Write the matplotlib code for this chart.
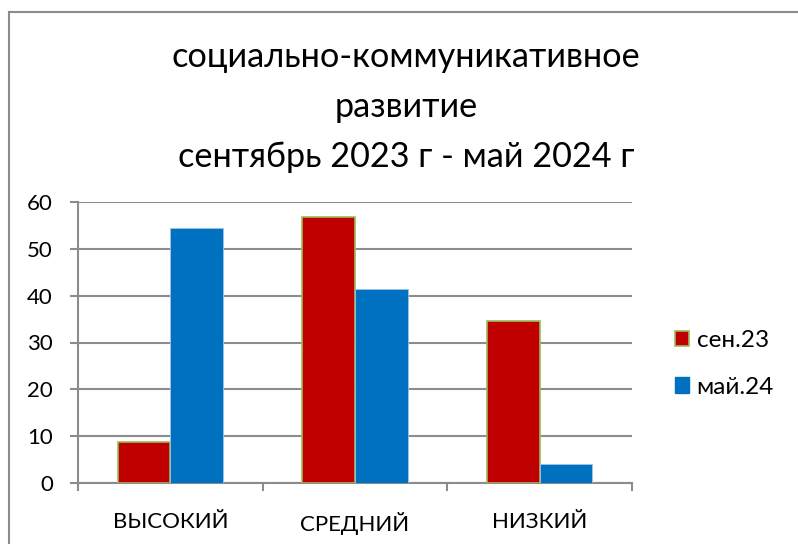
import matplotlib
matplotlib.use('Agg')
import matplotlib.pyplot as plt
import numpy as np
from matplotlib.patches import Rectangle
from matplotlib.lines import Line2D

categories = ['ВЫСОКИЙ', 'СРЕДНИЙ', 'НИЗКИЙ']
series_names = ['сен.23', 'май.24']
sep23 = [8.7, 56.7, 34.6]
may24 = [54.5, 41.5, 4.0]
yticks = [0, 10, 20, 30, 40, 50, 60]
title = 'социально-коммуникативное\nразвитие\nсентябрь 2023 г - май 2024 г'

plt.rcParams['font.family'] = ['Lato', 'DejaVu Sans']

fig = plt.figure(figsize=(7.98, 5.44), dpi=100)
ax = fig.add_axes([78/798, 61/544, 554/798, 281/544])

x = np.arange(len(categories))
w = 1 / 3.5
grid_c = '#8c8c8c'

ax.bar(x - w/2, sep23, w, color='#C00000', edgecolor='#9BBB59', linewidth=1.2, zorder=3,
       label=series_names[0])
ax.bar(x + w/2, may24, w, color='#0070C0', edgecolor='#9DC3E6', linewidth=0.6, zorder=3,
       label=series_names[1])

ax.set_xlim(-0.5, 2.5)
ax.set_ylim(0, 60)
ax.set_yticks(yticks)
ax.yaxis.grid(True, color=grid_c, linewidth=1.5, zorder=0)
ax.set_xticks(x)
ax.set_xticklabels(categories, fontsize=16)
ax.tick_params(axis='x', length=0, pad=21)
ax.tick_params(axis='y', labelsize=16, color=grid_c, length=6, width=1.5, pad=12)
ax.set_xticks([-0.5, 0.5, 1.5, 2.5], minor=True)
ax.tick_params(axis='x', which='minor', length=6, width=1.5, color=grid_c)

for s in ['top', 'right']:
    ax.spines[s].set_visible(False)
for s in ['left', 'bottom']:
    ax.spines[s].set_color(grid_c)
    ax.spines[s].set_linewidth(1.5)

fig.text(406/798, 1 - 107/544, title, ha='center', va='center', fontsize=24.7,
         linespacing=1.68)

handles = [Rectangle((0, 0), 1, 1, facecolor='#C00000', edgecolor='#9BBB59', linewidth=1.2),
           Rectangle((0, 0), 1, 1, facecolor='#0070C0', edgecolor='#0070C0')]
fig.legend(handles, series_names, loc='center left', bbox_to_anchor=(653/798, 1 - 364/544),
           frameon=False, fontsize=17.5, handlelength=0.6, handleheight=0.6,
           handletextpad=0.3, labelspacing=1.05)

# chart-area frame
fig.add_artist(Line2D([9/798, 9/798], [0, 1 - 12/544], transform=fig.transFigure,
                      color=grid_c, linewidth=1.5))
fig.add_artist(Line2D([9/798, 1], [1 - 12/544, 1 - 12/544], transform=fig.transFigure,
                      color=grid_c, linewidth=1.5))

fig.savefig('out.png', dpi=100)
